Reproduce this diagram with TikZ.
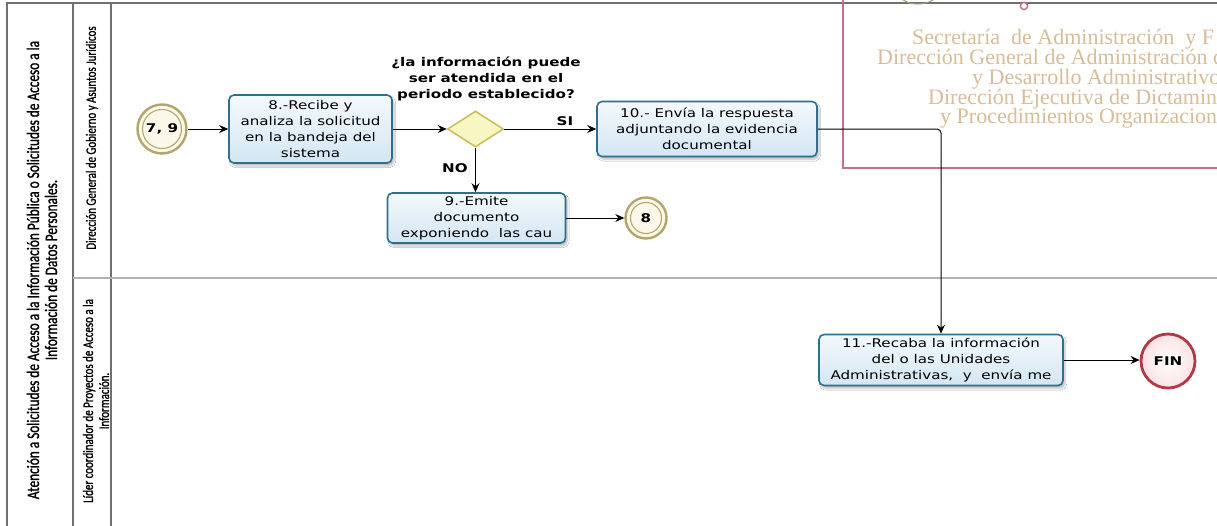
\documentclass[tikz,border=0pt]{standalone}
\usepackage{fontspec}
\usetikzlibrary{arrows.meta,shapes.geometric,shadows.blur}
\newfontfamily\boxfont{DejaVu Sans}[FakeStretch=1.26]
\newfontfamily\lanefont{Carlito}[FakeStretch=0.76, FakeBold=1.2]
\newfontfamily\markfont{Liberation Serif}

\definecolor{poolgray}{HTML}{707070}
\definecolor{lanegray}{HTML}{B2B2B2}
\definecolor{taskborder}{HTML}{2E6F8E}
\definecolor{tasktop}{HTML}{F4F9FD}
\definecolor{taskbottom}{HTML}{D3E6F3}
\definecolor{gwborder}{HTML}{C6BE58}
\definecolor{gwfill}{HTML}{F8F6C2}
\definecolor{linkring}{HTML}{B3A66C}
\definecolor{linkfill}{HTML}{FBF8EA}
\definecolor{endring}{HTML}{B23A48}
\definecolor{endfill}{HTML}{FBE2E3}
\definecolor{stampred}{HTML}{C46E88}
\definecolor{stamptan}{HTML}{D9BC98}

\tikzset{
  taskbox/.style={draw=taskborder, line width=1.6pt, rounded corners=5pt,
    top color=tasktop, bottom color=taskbottom, align=center, inner sep=0pt,
    font=\boxfont\fontsize{12}{16}\selectfont,
    blur shadow={shadow xshift=2pt, shadow yshift=-3pt, shadow blur steps=6, shadow opacity=25}},
  gateway/.style={diamond, draw=gwborder, line width=1.5pt, fill=gwfill,
    inner sep=0pt, minimum width=56pt, minimum height=36pt},
  linkev/.style={circle, draw=linkring, line width=2.4pt, fill=linkfill,
    inner sep=0pt, font=\boxfont\bfseries\fontsize{12}{14}\selectfont},
  endev/.style={circle, draw=endring, line width=2.8pt, inner color=white, outer color=endfill,
    inner sep=0pt, minimum size=54pt, font=\boxfont\bfseries\fontsize{12}{14}\selectfont},
  flow/.style={-{Stealth[length=9pt,width=8pt,inset=3pt]}, line width=1pt, black},
  flowlabel/.style={font=\boxfont\bfseries\fontsize{12}{14}\selectfont},
  lanetext/.style={rotate=90, align=center, font=\lanefont\fontsize{14.4}{16}\selectfont},
  marktext/.style={anchor=base west, text=stamptan, inner sep=0pt,
    font=\markfont\fontsize{22}{22}\selectfont},
}

\begin{document}
\begin{tikzpicture}[x=1pt, y=-1pt]
\useasboundingbox (0,0) rectangle (1217,525);
\fill[white] (0,0) rectangle (1217,525);

% pool and lane frame
\draw[poolgray, line width=1.3pt] (7,530) -- (7,3) -- (1225,3);
\draw[poolgray, line width=1.3pt] (73,3) -- (73,530);
\draw[poolgray, line width=1.3pt] (111,3) -- (111,530);
\draw[lanegray, line width=2.2pt] (73,278) -- (1225,278);

% pool and lane titles
\node[lanetext, font=\lanefont\fontsize{17.5}{18}\selectfont] (pooltitle) at (42,270)
  {Atención a Solicitudes de Acceso a la Información Pública o Solicitudes de Acceso a la\\Información de Datos Personales.};
\node[lanetext] (lane1) at (92,138) {Dirección General de Gobierno y Asuntos Jurídicos};
\node[lanetext] (lane2) at (96,401) {Líder coordinador de Proyectos de Acceso a la\\Información.};

% stamp in the upper right corner
\draw[stampred, line width=1.6pt] (843,-5) rectangle (1230,168);
\draw[stamptan!80!black, line width=1pt] (918,-26) circle (30);
\draw[stampred, line width=1.4pt, fill=white] (1024,6) circle (3.6);
\node[marktext] (m1) at (912,44) {Secretaría\ \ de Administración\ \ y F};
\node[marktext] (m2) at (877,64) {Dirección General de Administración d};
\node[marktext] (m3) at (972,84) {y Desarrollo Administrativo};
\node[marktext] (m4) at (928,104) {Dirección Ejecutiva de Dictamin};
\node[marktext] (m5) at (940,123) {y Procedimientos Organizacion};

% flow elements
\node[linkev, minimum size=49pt] (s79) at (162,129) {7, 9};
\draw[linkring, line width=1.1pt] (s79.center) circle (19.5);

\node[taskbox, minimum width=163pt, minimum height=68pt] (t8) at (310.5,129)
  {8.-Recibe y\\analiza la solicitud\\en la bandeja del\\sistema};

\node[gateway] (gw) at (475.5,129) {};
\node[flowlabel, align=center, font=\boxfont\bfseries\fontsize{12}{16}\selectfont] (gwq) at (486,79)
  {¿la información puede\\ser atendida en el\\periodo establecido?};

\node[taskbox, minimum width=220pt, minimum height=55pt] (t10) at (707,129)
  {10.- Envía la respuesta\\adjuntando la evidencia\\documental};

\node[taskbox, minimum width=178pt, minimum height=50pt] (t9) at (476.5,218)
  {9.-Emite\\documento\\exponiendo\ \ las cau};

\node[linkev, minimum size=41pt] (e8) at (646,218) {8};
\draw[linkring, line width=1.1pt] (e8.center) circle (15.5);

\node[taskbox, minimum width=244pt, minimum height=51pt] (t11) at (941,360)
  {11.-Recaba la información\\del o las Unidades\\Administrativas,\ \ y\ \ envía me};

\node[endev] (fin) at (1168,361) {FIN};

% sequence flows
\draw[flow] (s79.east) -- (t8.west);
\draw[flow] (t8.east) -- (gw.west);
\draw[flow] (gw.east) -- node[flowlabel, above, pos=0.66] (si) {SI} (t10.west);
\draw[flow] (gw.south) -- node[flowlabel, left, pos=0.45, xshift=-4pt] (no) {NO} (gw.south |- t9.north);
\draw[flow] (t9.east) -- (e8.west);
\draw[flow, rounded corners=4pt] (t10.east) -| (t11.north);
\draw[flow] (t11.east) -- (fin.west |- t11.east);
\end{tikzpicture}
\end{document}
